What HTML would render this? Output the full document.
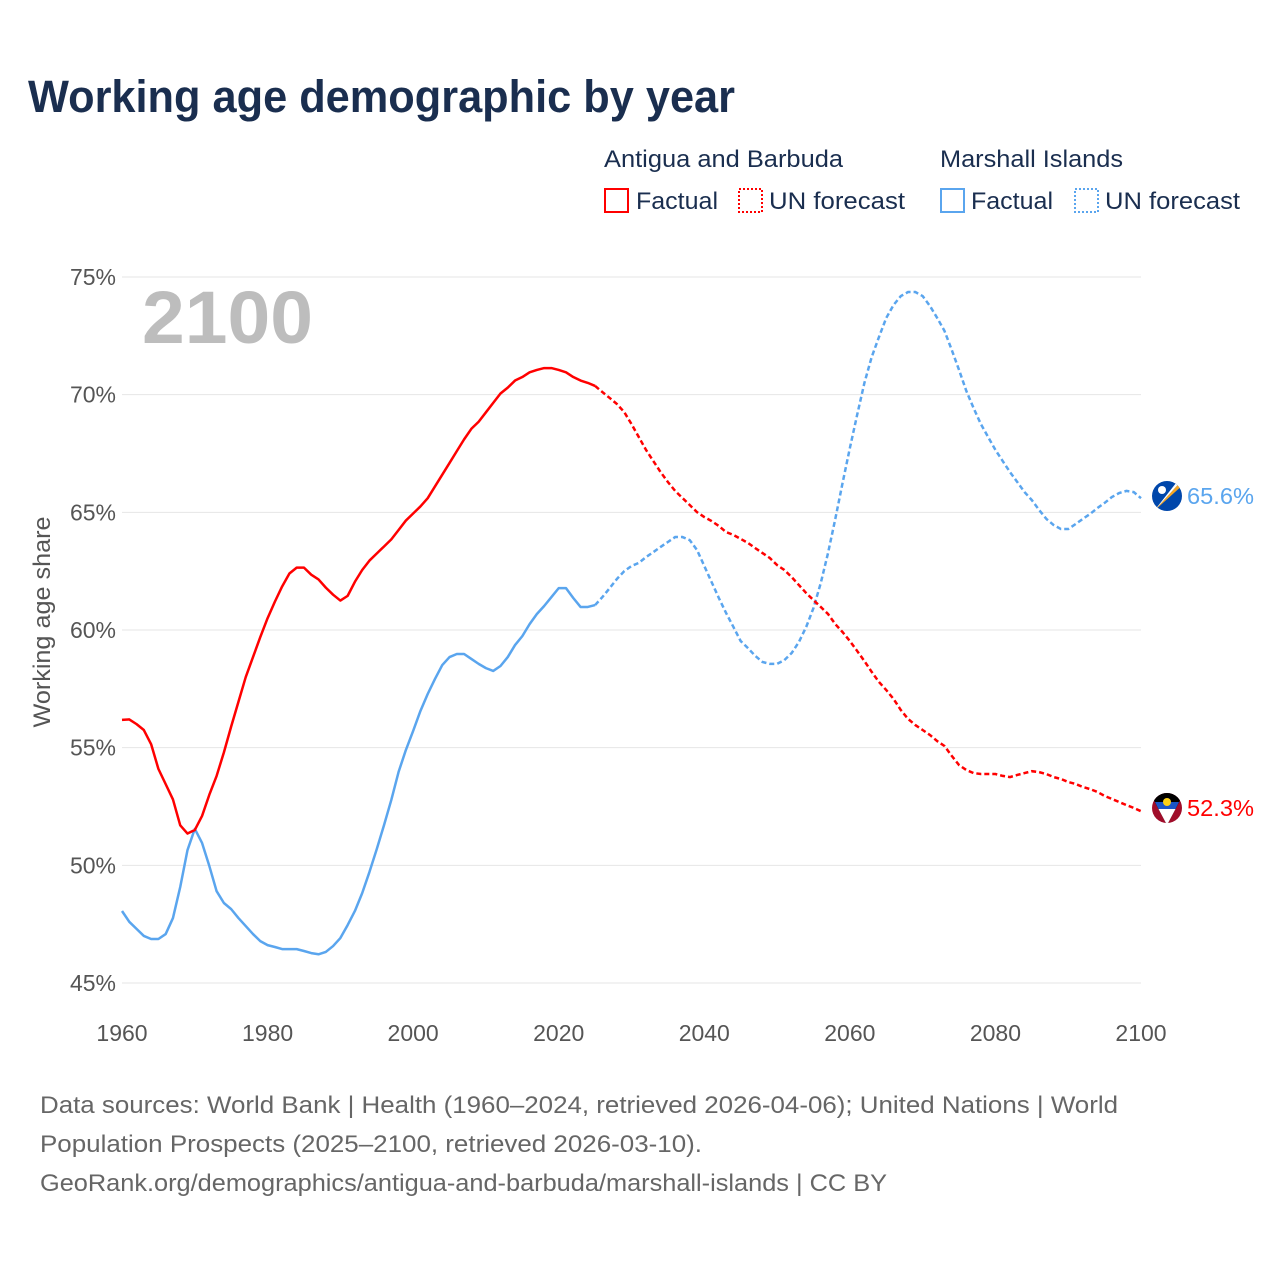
<!DOCTYPE html>
<html><head><meta charset="utf-8">
<style>
body{margin:0;background:#fff;}
svg{display:block;font-family:"Liberation Sans",sans-serif;}
</style></head>
<body>
<svg id="chart" width="1280" height="1280" viewBox="0 0 1280 1280">
<rect width="1280" height="1280" fill="#fff"/>
<text x="28" y="112" font-size="45" font-weight="bold" fill="#1a2e4f" textLength="707" lengthAdjust="spacingAndGlyphs">Working age demographic by year</text>
<g>
<text x="604" y="167" font-size="24" fill="#1a2e4f" textLength="239" lengthAdjust="spacingAndGlyphs">Antigua and Barbuda</text>
<text x="940" y="167" font-size="24" fill="#1a2e4f" textLength="183" lengthAdjust="spacingAndGlyphs">Marshall Islands</text>
<g><rect x="605" y="189" width="23" height="23" fill="none" stroke="#ff0000" stroke-width="2"/><text x="636" y="209" font-size="24" fill="#1a2e4f" textLength="82" lengthAdjust="spacingAndGlyphs">Factual</text></g>
<g><rect x="739" y="189" width="23" height="23" fill="none" stroke="#ff0000" stroke-width="2" stroke-dasharray="2,2"/><text x="769" y="209" font-size="24" fill="#1a2e4f" textLength="136" lengthAdjust="spacingAndGlyphs">UN forecast</text></g>
<g><rect x="941" y="189" width="23" height="23" fill="none" stroke="#5aa5ee" stroke-width="2"/><text x="971" y="209" font-size="24" fill="#1a2e4f" textLength="82" lengthAdjust="spacingAndGlyphs">Factual</text></g>
<g><rect x="1075" y="189" width="23" height="23" fill="none" stroke="#5aa5ee" stroke-width="2" stroke-dasharray="2,2"/><text x="1105" y="209" font-size="24" fill="#1a2e4f" textLength="135" lengthAdjust="spacingAndGlyphs">UN forecast</text></g>
</g>
<g id="grid"></g>
<g id="yticks"></g>
<g id="xticks"></g>
<text x="142" y="343" font-size="74" font-weight="bold" fill="#bdbdbd" textLength="171" lengthAdjust="spacingAndGlyphs">2100</text>
<text transform="translate(50,622) rotate(-90)" text-anchor="middle" font-size="24" fill="#555" textLength="211" lengthAdjust="spacingAndGlyphs">Working age share</text>
<g id="series"></g>
<g>
<clipPath id="cm"><circle cx="1167" cy="496" r="15"/></clipPath>
<circle cx="1167" cy="496" r="15" fill="#0047ab"/>
<polygon clip-path="url(#cm)" points="1154,511 1184,478 1184,484" fill="#f5a623"/>
<polygon clip-path="url(#cm)" points="1154,511 1184,478 1180,478" fill="#fff"/>
<circle cx="1162" cy="490" r="4" fill="#fff"/>
</g>
<g>
<clipPath id="ca"><circle cx="1167" cy="808" r="15"/></clipPath>
<circle cx="1167" cy="808" r="15" fill="#a00d2a"/>
<polygon clip-path="url(#ca)" points="1150,793 1184,793 1167,825" fill="#000"/>
<polygon clip-path="url(#ca)" points="1158.5,809 1175.5,809 1167,825" fill="#fff"/>
<polygon clip-path="url(#ca)" points="1155,802 1179,802 1175.5,809 1158.5,809" fill="#1a56c7"/>
<circle cx="1167" cy="802" r="4" fill="#fcd116"/>
</g>
<text id="lblM" x="1187" y="504" font-size="23" fill="#5aa5ee" textLength="67" lengthAdjust="spacingAndGlyphs">65.6%</text>
<text id="lblA" x="1187" y="816" font-size="23" fill="#ff0000" textLength="67" lengthAdjust="spacingAndGlyphs">52.3%</text>
<g font-size="24" fill="#666">
<text x="40" y="1113" textLength="1078" lengthAdjust="spacingAndGlyphs">Data sources: World Bank | Health (1960–2024, retrieved 2026-04-06); United Nations | World</text>
<text x="40" y="1152" textLength="662" lengthAdjust="spacingAndGlyphs">Population Prospects (2025–2100, retrieved 2026-03-10).</text>
<text x="40" y="1191" textLength="847" lengthAdjust="spacingAndGlyphs">GeoRank.org/demographics/antigua-and-barbuda/marshall-islands | CC BY</text>
</g>
</svg>
<script>
const startYear = 1960;
const forecastStart = 2025;
const yTicks = [45, 50, 55, 60, 65, 70, 75];
const xTicks = [1960, 1980, 2000, 2020, 2040, 2060, 2080, 2100];
const antigua = [56.18,56.2,56.0,55.75,55.15,54.1,53.45,52.8,51.7,51.35,51.5,52.1,53.0,53.8,54.8,55.9,56.95,58.0,58.85,59.7,
60.5,61.2,61.85,62.4,62.65,62.65,62.35,62.15,61.8,61.5,61.25,61.45,62.05,62.55,62.95,63.25,63.55,63.85,64.25,64.65,
64.95,65.25,65.6,66.1,66.6,67.1,67.6,68.1,68.55,68.85,69.25,69.65,70.05,70.3,70.6,70.75,70.95,71.05,71.13,71.13,
71.05,70.95,70.75,70.6,70.5,70.37,70.11,69.86,69.6,69.26,68.75,68.2,67.65,67.18,66.71,66.29,65.91,65.61,65.31,65.01,
64.8,64.63,64.42,64.16,64.04,63.87,63.7,63.48,63.27,63.06,62.76,62.55,62.25,61.91,61.57,61.27,60.98,60.68,60.25,59.91,
59.53,59.11,58.68,58.22,57.79,57.45,57.07,56.6,56.22,55.96,55.75,55.54,55.28,55.07,54.65,54.26,54.05,53.92,53.88,53.88,
53.88,53.8,53.75,53.84,53.92,54.0,53.96,53.88,53.75,53.67,53.54,53.46,53.33,53.24,53.12,52.95,52.82,52.69,52.56,52.44,52.3];
const marshall = [48.06,47.6,47.3,47.0,46.87,46.87,47.08,47.76,49.08,50.65,51.55,50.95,49.97,48.9,48.4,48.14,47.76,47.42,47.08,46.78,
46.61,46.53,46.44,46.44,46.44,46.36,46.27,46.22,46.32,46.57,46.91,47.46,48.06,48.82,49.72,50.69,51.71,52.78,53.97,54.9,
55.71,56.56,57.28,57.92,58.51,58.85,58.98,58.98,58.77,58.56,58.38,58.26,58.47,58.85,59.36,59.74,60.25,60.68,61.02,61.4,
61.78,61.78,61.36,60.98,60.98,61.06,61.4,61.78,62.17,62.5,62.72,62.85,63.1,63.31,63.53,63.74,63.95,63.95,63.82,63.4,
62.72,62.04,61.36,60.72,60.13,59.53,59.23,58.9,58.64,58.56,58.56,58.72,59.02,59.49,60.13,60.93,61.99,63.27,64.72,66.25,
67.73,69.14,70.5,71.6,72.45,73.26,73.81,74.19,74.36,74.36,74.19,73.77,73.26,72.71,71.9,71.05,70.16,69.43,68.75,68.2,
67.65,67.18,66.71,66.29,65.86,65.52,65.1,64.72,64.46,64.29,64.29,64.5,64.72,64.93,65.18,65.4,65.65,65.82,65.91,65.86,65.6];

const NS = "http://www.w3.org/2000/svg";
const X0 = 122, X1 = 1141, Y0 = 983, Y1 = 277;
function xs(yr){ return X0 + (yr - 1960) / 140 * (X1 - X0); }
function ys(v){ return Y0 - (v - 45) / 30 * (Y0 - Y1); }
function mk(tag, attrs, parent){ const e = document.createElementNS(NS, tag); for (const k in attrs) e.setAttribute(k, attrs[k]); parent.appendChild(e); return e; }

const grid = document.getElementById('grid');
const yt = document.getElementById('yticks');
yTicks.forEach(v => {
  const l = mk('line', {x1: X0, x2: X1, y1: ys(v), y2: ys(v), stroke: '#e6e6e6', 'stroke-width': 1}, grid);
  
  
  const t = mk('text', {x: 116, y: ys(v) + 8, 'text-anchor': 'end', 'font-size': 23, fill: '#555'}, yt);
  t.textContent = v + '%';
  
  
});
const xt = document.getElementById('xticks');
xTicks.forEach(yr => {
  const t = mk('text', {x: xs(yr), y: 1041, 'text-anchor': 'middle', 'font-size': 23, fill: '#555'}, xt);
  t.textContent = yr;
  
  
});

const ser = document.getElementById('series');
function draw(vals, color, name){
  const split = forecastStart - startYear;
  const pts = vals.map((v, i) => xs(startYear + i).toFixed(2) + ',' + ys(v).toFixed(2));
  const f = mk('polyline', {points: pts.slice(0, split + 1).join(' '), fill: 'none', stroke: color, 'stroke-width': 2.5, 'stroke-linejoin': 'round'}, ser);
  
  
  const p = mk('polyline', {points: pts.slice(split).join(' '), fill: 'none', stroke: color, 'stroke-width': 2.5, 'stroke-dasharray': '5,3'}, ser);
  
  
}
draw(marshall, '#5aa5ee', 'marshall-islands');
draw(antigua, '#ff0000', 'antigua-barbuda');
document.getElementById('lblM').textContent = marshall[marshall.length - 1].toFixed(1) + '%';
document.getElementById('lblA').textContent = antigua[antigua.length - 1].toFixed(1) + '%';
</script>
</body></html>
